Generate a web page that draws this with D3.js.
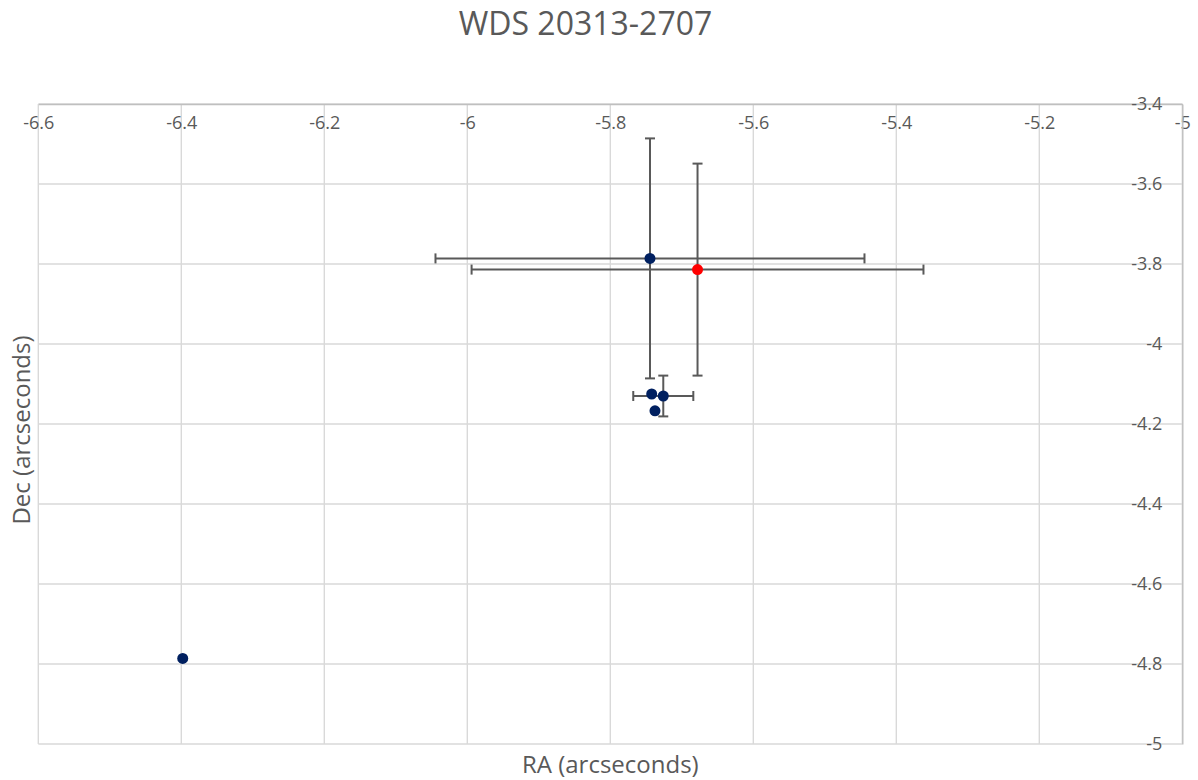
<!DOCTYPE html>
<html>
<head>
<meta charset="utf-8">
<script src="https://cdn.jsdelivr.net/npm/d3@7"></script>
<style>
  html, body { margin: 0; padding: 0; background: #ffffff; }
  svg { display: block; }
  text { font-family: "Open Sans", "Noto Sans", sans-serif; fill: #595959; }
</style>
</head>
<body>
<svg id="chart" width="1198" height="780"></svg>
<script>
// Measured positions (arcseconds) of the companion, with error bars
const raVals  = [-6.398, -5.7445, -5.7421, -5.7259, -5.7375];
const decVals = [-4.786, -3.786, -4.125, -4.130, -4.167];
const raErr   = [0, 0.300, 0, 0.042, 0];
const decErr  = [0, 0.300, 0, 0.051, 0];

// Highlighted (predicted) position
const raRed     = [-5.678];
const decRed    = [-3.814];
const raErrRed  = [0.316];
const decErrRed = [0.265];

// Axis ticks
const xTicks = [-6.6, -6.4, -6.2, -6.0, -5.8, -5.6, -5.4, -5.2, -5.0];
const yTicks = [-3.4, -3.6, -3.8, -4.0, -4.2, -4.4, -4.6, -4.8, -5.0];

const svg = d3.select("#chart");
const plotLeft = 38.3, plotRight = 1182.3, plotTop = 104, plotBottom = 744;

const x = d3.scaleLinear().domain([-6.6, -5]).range([plotLeft, plotRight]);
const y = d3.scaleLinear().domain([-3.4, -5]).range([plotTop, plotBottom]);
const fmt = d => String(Math.round(d * 10) / 10);

// Gridlines
const grid = svg.append("g");
grid.selectAll("line.v").data(xTicks).join("line")
  .attr("x1", d => x(d)).attr("x2", d => x(d))
  .attr("y1", plotTop).attr("y2", plotBottom)
  .attr("stroke", "#d9d9d9").attr("stroke-width", 1.4);
grid.selectAll("line.h").data(yTicks).join("line")
  .attr("x1", plotLeft).attr("x2", plotRight)
  .attr("y1", d => y(d)).attr("y2", d => y(d))
  .attr("stroke", "#d9d9d9").attr("stroke-width", 1.4);

// X axis along the top edge, labels beneath it
const xAxis = svg.append("g")
  .attr("transform", `translate(0,${plotTop})`)
  .call(d3.axisBottom(x).tickValues(xTicks).tickFormat(fmt).tickSize(0).tickPadding(12));
xAxis.select(".domain").attr("stroke", "#bfbfbf").attr("stroke-width", 1.4);
xAxis.selectAll("text").attr("font-size", 18).style("fill", "#595959");

// Y axis along the right edge, labels to its left
const yAxis = svg.append("g")
  .attr("transform", `translate(${plotRight},0)`)
  .call(d3.axisLeft(y).tickValues(yTicks).tickFormat(fmt).tickSize(0).tickPadding(20));
yAxis.select(".domain").attr("stroke", "#bfbfbf").attr("stroke-width", 1.4);
yAxis.selectAll("text").attr("font-size", 18).style("fill", "#595959");
xAxis.attr("font-family", null);
yAxis.attr("font-family", null);

// Error bars
const errColor = "#595959", cap = 5;
function errorBars(g, xs, ys, ex, ey) {
  xs.forEach((xv, i) => {
    const cx = x(xv), cy = y(ys[i]);
    if (ex[i] > 0) {
      const x0 = x(xv - ex[i]), x1 = x(xv + ex[i]);
      g.append("line").attr("x1", x0).attr("x2", x1).attr("y1", cy).attr("y2", cy);
      g.append("line").attr("x1", x0).attr("x2", x0).attr("y1", cy - cap).attr("y2", cy + cap);
      g.append("line").attr("x1", x1).attr("x2", x1).attr("y1", cy - cap).attr("y2", cy + cap);
    }
    if (ey[i] > 0) {
      const y0 = y(ys[i] + ey[i]), y1 = y(ys[i] - ey[i]);
      g.append("line").attr("x1", cx).attr("x2", cx).attr("y1", y0).attr("y2", y1);
      g.append("line").attr("x1", cx - cap).attr("x2", cx + cap).attr("y1", y0).attr("y2", y0);
      g.append("line").attr("x1", cx - cap).attr("x2", cx + cap).attr("y1", y1).attr("y2", y1);
    }
  });
}
const eb = svg.append("g").attr("stroke", errColor).attr("stroke-width", 2);
errorBars(eb, raVals, decVals, raErr, decErr);
errorBars(eb, raRed, decRed, raErrRed, decErrRed);

// Markers
svg.append("g").selectAll("circle").data(raVals).join("circle")
  .attr("cx", d => x(d)).attr("cy", (d, i) => y(decVals[i]))
  .attr("r", 5.5).attr("fill", "#002060");
svg.append("g").selectAll("circle").data(raRed).join("circle")
  .attr("cx", d => x(d)).attr("cy", (d, i) => y(decRed[i]))
  .attr("r", 5.5).attr("fill", "#ff0000");

// Titles
svg.append("text").attr("x", 585.5).attr("y", 35).attr("text-anchor", "middle")
  .attr("font-size", 32).text("WDS 20313-2707");
svg.append("text").attr("x", (plotLeft + plotRight) / 2).attr("y", 773).attr("text-anchor", "middle")
  .attr("font-size", 24).text("RA (arcseconds)");
svg.append("text").attr("transform", "translate(30,430) rotate(-90)").attr("text-anchor", "middle")
  .attr("font-size", 24).text("Dec (arcseconds)");
</script>
</body>
</html>
